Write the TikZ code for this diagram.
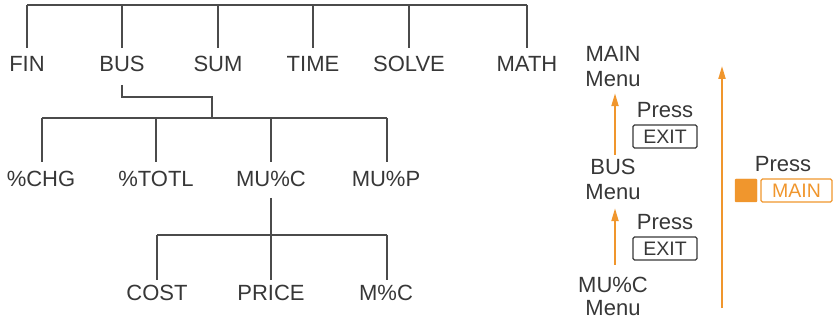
\documentclass[tikz,border=0pt]{standalone}
\usepackage{fontspec}
\setmainfont{Liberation Sans}
\usetikzlibrary{arrows.meta}
\definecolor{txt}{RGB}{55,55,55}
\definecolor{ln}{RGB}{75,75,75}
\definecolor{org}{RGB}{240,150,45}
\tikzset{
  lbl/.style={font=\fontsize{22}{22}\selectfont, text=txt, inner sep=0pt, outer sep=0pt, anchor=base},
  tree/.style={draw=ln, line width=1.8pt},
  oarrow/.style={draw=org, line width=2pt, -{Triangle[length=13pt,width=7pt]}},
  keybox/.style={draw=txt, text=txt, line width=1.2pt, rounded corners=1.5pt, minimum width=64pt, minimum height=23pt, inner sep=0pt, font=\fontsize{19.5}{19.5}\selectfont},
  shiftbox/.style={fill=org, draw=org, minimum width=22pt, minimum height=23pt, inner sep=0pt, rounded corners=1pt},
  mainbox/.style={draw=org, text=org, line width=1.2pt, minimum width=71pt, minimum height=23pt, inner sep=0pt, rounded corners=1.5pt, font=\fontsize{19.5}{19.5}\selectfont},
}
\begin{document}
\begin{tikzpicture}[x=1pt,y=-1pt]
\useasboundingbox (0,0) rectangle (835,320);
% ---- level 1
\node[lbl] (fin) at (27,72) {FIN};
\node[lbl] (bus) at (122,72) {BUS};
\node[lbl] (sum) at (218,72) {SUM};
\node[lbl] (time) at (313,72) {TIME};
\node[lbl] (solve) at (409,72) {SOLVE};
\node[lbl] (math) at (527,72) {MATH};
\coordinate (rootL) at (27,5);
\coordinate (rootR) at (527,5);
\draw[tree] (rootL) -- (rootR);
\foreach \n in {fin,bus,sum,time,solve,math}
  \draw[tree] (\n.base |- rootL) -- ++(0,43);
% ---- level 2
\node[lbl] (chg) at (41,187) {\%CHG};
\node[lbl] (totl) at (156,187) {\%TOTL};
\node[lbl] (muc) at (271,187) {MU\%C};
\node[lbl] (mup) at (386,187) {MU\%P};
\coordinate (busturn) at (212,97);
\coordinate (barL) at (42,118);
\coordinate (barR) at (387,118);
\draw[tree] ([yshift=-13pt]bus.base) |- (busturn) -- (busturn |- barL);
\draw[tree] (barL) -- (barR);
\draw[tree] (barL) -- ++(0,44);
\draw[tree] (totl.base |- barL) -- ++(0,44);
\draw[tree] (muc.base |- barL) -- ++(0,44);
\draw[tree] (barR) -- ++(0,44);
% ---- level 3
\node[lbl] (cost) at (157,301) {COST};
\node[lbl] (price) at (271,301) {PRICE};
\node[lbl] (mpc) at (386,301) {M\%C};
\coordinate (bar3L) at (157,235);
\coordinate (bar3R) at (387,235);
\draw[tree] ([yshift=-11pt]muc.base) -- (muc.base |- bar3L);
\draw[tree] (bar3L) -- (bar3R);
\draw[tree] (bar3L) -- ++(0,45);
\draw[tree] (price.base |- bar3L) -- ++(0,45);
\draw[tree] (bar3R) -- ++(0,45);
% ---- right side
\node[lbl] (main1) at (613,62) {MAIN};
\node[lbl] (main2) at (613,87) {Menu};
\node[lbl] (bus1) at (613,175) {BUS};
\node[lbl] (bus2) at (613,200) {Menu};
\node[lbl] (mu1) at (613,292) {MU\%C};
\node[lbl] (mu2) at (613,316) {Menu};
\draw[oarrow, shorten <=5pt, shorten >=6pt] ([xshift=2pt]bus1.north) -- ([xshift=2pt]main2.south);
\draw[oarrow, shorten <=12pt, shorten >=8pt] ([xshift=2pt]mu1.north) -- ([xshift=2pt]bus2.south);
\node[lbl] (press1) at (665,118) {Press};
\node[keybox] (exit1) at (665,136.5) {EXIT};
\node[lbl] (press2) at (665,230) {Press};
\node[keybox] (exit2) at (665,248.5) {EXIT};
\coordinate (bigS) at (722,308);
\coordinate (bigE) at (722,66);
\draw[oarrow] (bigS) -- (bigE);
\node[lbl] (press3) at (783,172) {Press};
\node[shiftbox] (shift) at (746,190.5) {};
\node[mainbox] (mainkey) at (796.5,190.5) {MAIN};
\end{tikzpicture}
\end{document}
